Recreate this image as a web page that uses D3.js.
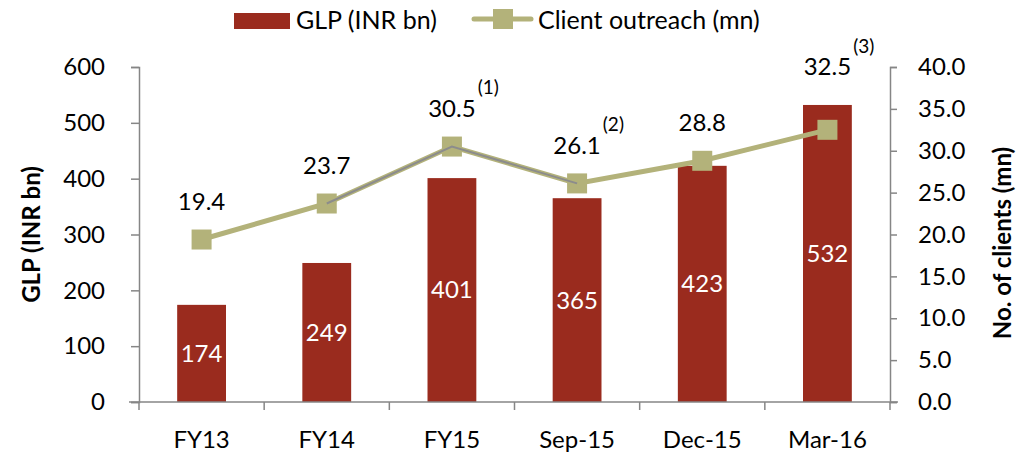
<!DOCTYPE html>
<html>
<head>
<meta charset="utf-8">
<script src="https://cdn.jsdelivr.net/npm/d3@7"></script>
<style>
  html, body { margin: 0; padding: 0; background: #fff; }
  svg text { font-family: Lato, "Open Sans", "Liberation Sans", sans-serif; fill: #000; }
</style>
</head>
<body>
<svg id="chart" width="1033" height="454"></svg>
<script>
// Periods on the x axis
const categories = ["FY13", "FY14", "FY15", "Sep-15", "Dec-15", "Mar-16"];
// Gross loan portfolio, INR bn (bars, left axis)
const glp = [174, 249, 401, 365, 423, 532];
// Client outreach, mn (line, right axis)
const clients = [19.4, 23.7, 30.5, 26.1, 28.8, 32.5];
// Comparable-basis segment overlaid on the outreach line
const clientsComparable = [null, 23.7, 30.5, 26.1, null, null];
// Footnote markers attached to outreach labels
const footnotes = ["", "", "(1)", "(2)", "", "(3)"];
// Axis ticks
const leftTicks = [0, 100, 200, 300, 400, 500, 600];
const rightTicks = [0, 5, 10, 15, 20, 25, 30, 35, 40];

const barColor = "#9A2B1E";
const lineColor = "#B3B27A";
const overlayColor = "#8C8C8C";
const axisColor = "#868686";
const FS = 24;

const svg = d3.select("#chart");
const plot = { left: 139, right: 890, top: 67, bottom: 402 };

const x = d3.scaleBand().domain(categories).range([plot.left, plot.right]).paddingInner(0.61).paddingOuter(0.305);
const xBand = d3.scaleBand().domain(categories).range([plot.left, plot.right]);
const yL = d3.scaleLinear().domain([0, 600]).range([plot.bottom, plot.top]);
const yR = d3.scaleLinear().domain([0, 40]).range([plot.bottom, plot.top]);
const cx = c => xBand(c) + xBand.bandwidth() / 2;

// Left axis
const gL = svg.append("g").attr("transform", `translate(${plot.left},0)`)
  .call(d3.axisLeft(yL).tickValues(leftTicks).tickSize(8).tickPadding(26).tickFormat(d3.format("d")));
// Right axis
const gR = svg.append("g").attr("transform", `translate(${plot.right},0)`)
  .call(d3.axisRight(yR).tickValues(rightTicks).tickSize(7).tickPadding(21).tickFormat(d3.format(".1f")));
[gL, gR].forEach(g => {
  g.select(".domain").attr("stroke", axisColor).attr("stroke-width", 1.5);
  g.selectAll(".tick line").attr("stroke", axisColor).attr("stroke-width", 1.5);
  g.selectAll(".tick text").style("font-size", FS + "px").attr("fill", "#000");
});

// Bars
svg.append("g").selectAll("rect").data(glp).join("rect")
  .attr("x", (d, i) => x(categories[i]))
  .attr("width", x.bandwidth())
  .attr("y", d => yL(d))
  .attr("height", d => yL(0) - yL(d))
  .attr("fill", barColor);

// Bottom axis with boundary ticks between categories
const gB = svg.append("g").attr("transform", `translate(0,${plot.bottom})`);
gB.append("line").attr("x1", plot.left - 10).attr("x2", plot.right + 8)
  .attr("stroke", axisColor).attr("stroke-width", 1.5);
const boundaries = categories.map(c => xBand(c)).concat([plot.right]);
gB.selectAll("line.tk").data(boundaries).join("line").attr("class", "tk")
  .attr("x1", d => d).attr("x2", d => d).attr("y1", 0).attr("y2", 8)
  .attr("stroke", axisColor).attr("stroke-width", 1.5);
gB.selectAll("text").data(categories).join("text")
  .attr("x", d => cx(d)).attr("y", 46)
  .attr("text-anchor", "middle").style("font-size", FS + "px").text(d => d);

// Bar value labels
svg.append("g").selectAll("text").data(glp).join("text")
  .attr("x", (d, i) => cx(categories[i]))
  .attr("y", d => (yL(d) + yL(0)) / 2)
  .attr("dy", "0.35em").attr("text-anchor", "middle")
  .style("font-size", FS + "px").style("fill", "#fff").text(d => d);

// Outreach line
const line = d3.line().defined(d => d[1] != null)
  .x(d => cx(d[0])).y(d => yR(d[1]));
svg.append("path").datum(categories.map((c, i) => [c, clients[i]]))
  .attr("d", line).attr("fill", "none").attr("stroke", lineColor).attr("stroke-width", 5);
svg.append("g").selectAll("rect").data(clients).join("rect")
  .attr("x", (d, i) => cx(categories[i]) - 10).attr("y", d => yR(d) - 10)
  .attr("width", 20).attr("height", 20).attr("fill", lineColor);
svg.append("path").datum(categories.map((c, i) => [c, clientsComparable[i]]))
  .attr("d", line).attr("fill", "none").attr("stroke", overlayColor).attr("stroke-width", 2);

// Outreach value labels, kept clear of the bars
const labelY = (v, i) => Math.min(yR(v) - 38, yL(glp[i]) - 38);
const lg = svg.append("g");
clients.forEach((v, i) => {
  const t = lg.append("text")
    .attr("x", cx(categories[i])).attr("y", labelY(v, i))
    .attr("dy", "0.35em").attr("text-anchor", "middle")
    .style("font-size", FS + "px").text(v.toFixed(1));
  if (footnotes[i]) {
    const w = t.node().getComputedTextLength();
    lg.append("text")
      .attr("x", cx(categories[i]) + w / 2 + 2).attr("y", labelY(v, i) - 21)
      .attr("dy", "0.35em").style("font-size", "19px").text(footnotes[i]);
  }
});

// Axis titles
svg.append("text").attr("transform", `translate(32,${(plot.top + plot.bottom) / 2}) rotate(-90)`)
  .attr("text-anchor", "middle").attr("dy", "0.35em")
  .style("font-size", FS + "px").style("font-weight", "bold").text("GLP (INR bn)");
svg.append("text").attr("transform", `translate(1003,243) rotate(-90)`)
  .attr("text-anchor", "middle").attr("dy", "0.35em")
  .style("font-size", FS + "px").style("font-weight", "bold").text("No. of clients (mn)");

// Legend
const leg = svg.append("g");
leg.append("rect").attr("x", 234).attr("y", 13).attr("width", 56).attr("height", 16).attr("fill", barColor);
leg.append("text").attr("x", 296).attr("y", 20).attr("dy", "0.35em").style("font-size", "25px").text("GLP (INR bn)");
leg.append("line").attr("x1", 474).attr("x2", 531).attr("y1", 19).attr("y2", 19)
  .attr("stroke", lineColor).attr("stroke-width", 5).attr("stroke-linecap", "round");
leg.append("rect").attr("x", 493).attr("y", 9).attr("width", 20).attr("height", 20).attr("fill", lineColor);
leg.append("text").attr("x", 538).attr("y", 20).attr("dy", "0.35em").style("font-size", "25px").text("Client outreach (mn)");
</script>
</body>
</html>
